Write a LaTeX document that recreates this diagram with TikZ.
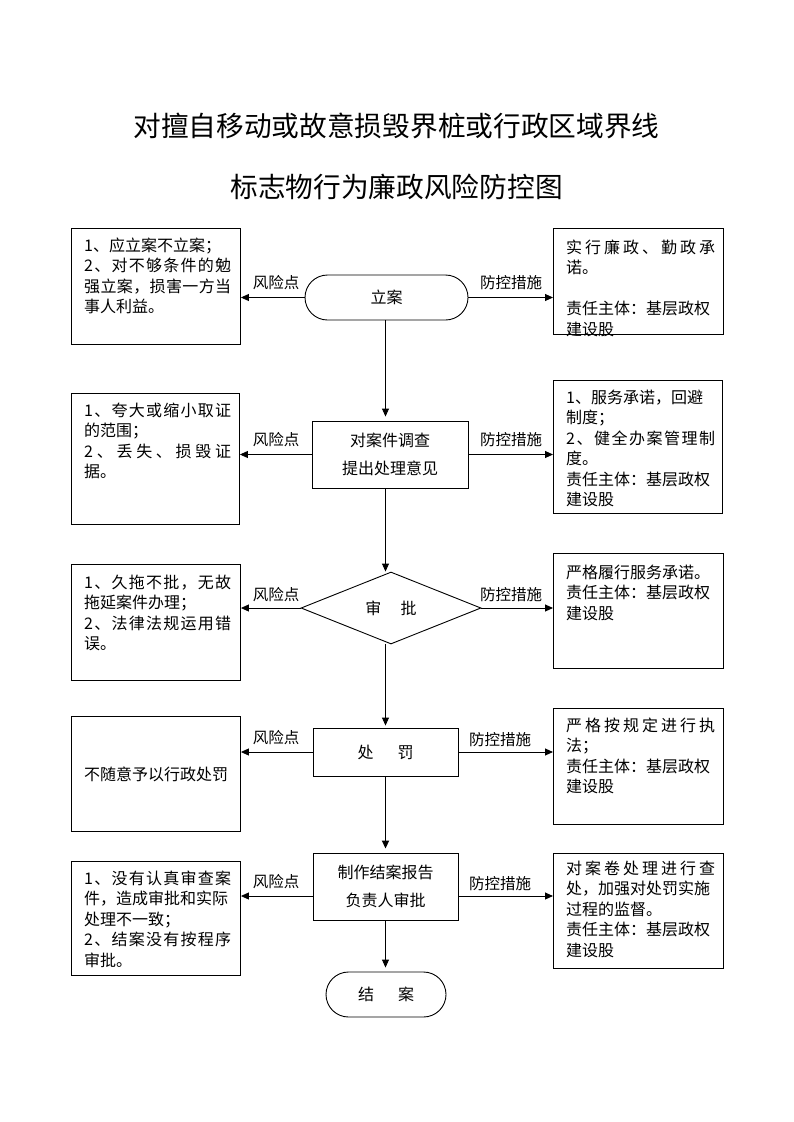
\documentclass[tikz,border=0pt]{standalone}
\usepackage{fontspec}
\setmainfont{Noto Sans CJK SC}
\usetikzlibrary{shapes.geometric,arrows.meta}
\makeatletter
\def\jst#1{\leavevmode\hbox to \linewidth{\jst@a#1\relax}}
\def\jst@a#1#2{#1\ifx\relax#2\expandafter\@gobble\else\hfill\expandafter\@firstofone\fi{\jst@a#2}}
\makeatother
\tikzset{
  box/.style={draw, line width=0.9pt, inner sep=0pt},
  txtL/.style={text width=147pt, inner sep=0pt, align=left, font=\fontsize{16}{20.5}\selectfont},
  txtR/.style={text width=149pt, inner sep=0pt, align=left, font=\fontsize{16}{20.5}\selectfont},
  ctext/.style={align=center, font=\fontsize{16}{27.5}\selectfont},
  stad/.style={draw, line width=0.9pt, rounded corners=22.5pt, inner sep=0pt, font=\fontsize{16}{20}\selectfont},
  dia/.style={draw, diamond, line width=0.9pt, inner sep=0pt, minimum width=180pt, minimum height=72pt, font=\fontsize{16}{20}\selectfont},
  arr/.style={-{Triangle[length=8pt,width=7pt]}, line width=0.9pt},
  lbl/.style={font=\fontsize{15.5}{18}\selectfont, inner sep=0pt},
  ttl/.style={font=\fontsize{27.7}{32}\selectfont, inner sep=0pt},
}
\begin{document}
\begin{tikzpicture}[x=1pt,y=-1pt]
\fill[white] (0,0) rectangle (793,1122);
\useasboundingbox (0,0) rectangle (793,1122);

% title
\node[ttl] (t1) at (396.5,126) {对擅自移动或故意损毁界桩或行政区域界线};
\node[ttl] (t2) at (396.5,187) {标志物行为廉政风险防控图};

% centre flow
\node[stad, minimum width=163pt, minimum height=45pt] (lian) at (386.5,297.5) {立案};
\node[box, ctext, minimum width=156pt, minimum height=67pt] (dc) at (390,454.5) {对案件调查\\提出处理意见};
\node[dia] (sp) at (391,608) {审\hspace{1.2em}批};
\node[box, ctext, minimum width=145pt, minimum height=48pt] (cf) at (385.5,752) {处\hspace{1.5em}罚};
\node[box, ctext, minimum width=145pt, minimum height=67pt] (bg) at (385.5,886.5) {制作结案报告\\负责人审批};
\node[stad, minimum width=120pt, minimum height=45pt] (ja) at (386,994.5) {结\hspace{1.5em}案};

% left boxes
\node[box, minimum width=169pt, minimum height=116pt, anchor=north west] (L1) at (71,228) {};
\node[txtL, anchor=base west] (L1t) at ([xshift=13pt,yshift=-23pt]L1.north west)
  {1、应立案不立案；\par\jst{2、对不够条件的勉}\par\jst{强立案，损害一方当}\par 事人利益。};
\node[box, minimum width=168pt, minimum height=131pt, anchor=north west] (L2) at (71,393) {};
\node[txtL, anchor=base west] (L2t) at ([xshift=13pt,yshift=-23pt]L2.north west)
  {\jst{1、夸大或缩小取证}\par 的范围；\par\jst{2、丢失、损毁证}\par 据。};
\node[box, minimum width=169pt, minimum height=116pt, anchor=north west] (L3) at (71,564) {};
\node[txtL, anchor=base west] (L3t) at ([xshift=13pt,yshift=-24pt]L3.north west)
  {\jst{1、久拖不批，无故}\par 拖延案件办理；\par\jst{2、法律法规运用错}\par 误。};
\node[box, minimum width=169pt, minimum height=115pt, anchor=north west] (L4) at (71,716) {};
\node[txtL, anchor=west] (L4t) at ([xshift=13pt]L4.west) {不随意予以行政处罚};
\node[box, minimum width=169pt, minimum height=114pt, anchor=north west] (L5) at (71,861) {};
\node[txtL, anchor=base west] (L5t) at ([xshift=13pt,yshift=-23pt]L5.north west)
  {\jst{1、没有认真审查案}\par 件，造成审批和实际\par 处理不一致；\par\jst{2、结案没有按程序}\par 审批。};

% right boxes
\node[box, minimum width=170pt, minimum height=106pt, anchor=north west] (R1) at (553,228) {};
\node[txtR, anchor=base west] (R1t) at ([xshift=13pt,yshift=-25pt]R1.north west)
  {\jst{实行廉政、勤政承}\par 诺。\par\mbox{}\par 责任主体：基层政权\par 建设股};
\node[box, minimum width=169pt, minimum height=133pt, anchor=north west] (R2) at (553,380) {};
\node[txtR, anchor=base west] (R2t) at ([xshift=13pt,yshift=-23pt]R2.north west)
  {1、服务承诺，回避\par 制度；\par\jst{2、健全办案管理制}\par 度。\par 责任主体：基层政权\par 建设股};
\node[box, minimum width=170pt, minimum height=115pt, anchor=north west] (R3) at (553,553) {};
\node[txtR, anchor=base west] (R3t) at ([xshift=13pt,yshift=-25pt]R3.north west)
  {严格履行服务承诺。\par 责任主体：基层政权\par 建设股};
\node[box, minimum width=170pt, minimum height=116pt, anchor=north west] (R4) at (553,708) {};
\node[txtR, anchor=base west] (R4t) at ([xshift=13pt,yshift=-23pt]R4.north west)
  {\jst{严格按规定进行执}\par 法；\par 责任主体：基层政权\par 建设股};
\node[box, minimum width=170pt, minimum height=115pt, anchor=north west] (R5) at (553,853) {};
\node[txtR, anchor=base west] (R5t) at ([xshift=13pt,yshift=-21pt]R5.north west)
  {\jst{对案卷处理进行查}\par 处，加强对处罚实施\par 过程的监督。\par 责任主体：基层政权\par 建设股};

% vertical flow
\coordinate (vx) at (385.5,0);
\draw[arr, shorten >=4pt] (lian.south -| vx) -- (dc.north -| vx);
\draw[arr] (dc.south -| vx) -- (sp.north -| vx);
\draw[arr, shorten >=2pt] (sp.south -| vx) -- (cf.north -| vx);
\draw[arr, line width=1.8pt, shorten >=4pt] (cf.south -| vx) -- (bg.north -| vx);
\draw[arr, shorten >=4pt] (bg.south -| vx) -- (ja.north -| vx);

% horizontal arrows
\draw[arr] (lian.west) -- (L1.east |- lian.west);
\draw[arr] (lian.east) -- (R1.west |- lian.east);
\draw[arr] (dc.west) -- (L2.east |- dc.west);
\draw[arr] (dc.east) -- (R2.west |- dc.east);
\draw[arr] (sp.west) -- (L3.east |- sp.west);
\draw[arr] (sp.east) -- (R3.west |- sp.east);
\draw[arr] (cf.west) -- (L4.east |- cf.west);
\draw[arr] (cf.east) -- (R4.west |- cf.east);
\coordinate (bgw) at ([yshift=-9.5pt]bg.west);
\coordinate (bge) at ([yshift=-9.5pt]bg.east);
\draw[arr] (bgw) -- (L5.east |- bgw);
\draw[arr] (bge) -- (R5.west |- bge);

% labels
\node[lbl] (f1) at (276,283) {风险点};
\node[lbl] (k1) at (511,283) {防控措施};
\node[lbl] (f2) at (276,440) {风险点};
\node[lbl] (k2) at (511,440) {防控措施};
\node[lbl] (f3) at (276,595) {风险点};
\node[lbl] (k3) at (511,595) {防控措施};
\node[lbl] (f4) at (276,738) {风险点};
\node[lbl] (k4) at (500,740) {防控措施};
\node[lbl] (f5) at (276,882) {风险点};
\node[lbl] (k5) at (500,884) {防控措施};
\end{tikzpicture}
\end{document}
